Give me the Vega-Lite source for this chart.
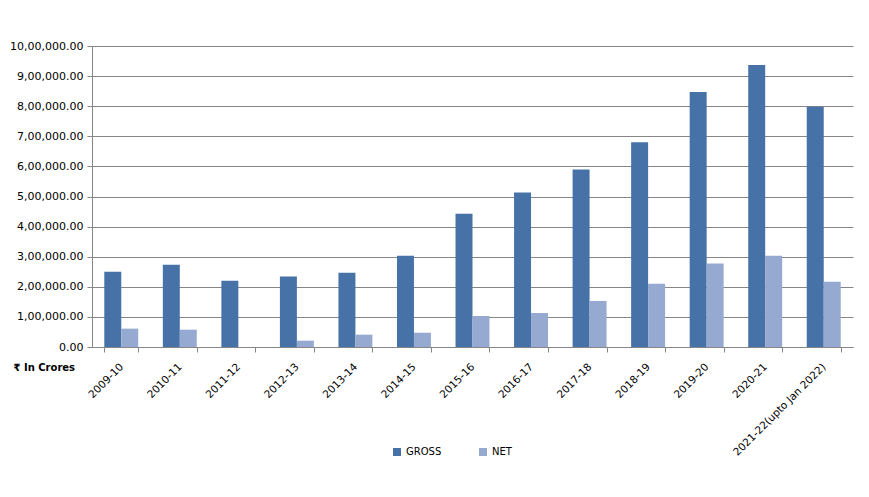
{
  "$schema": "https://vega.github.io/schema/vega-lite/v6.json",
  "width": 761,
  "height": 301,
  "autosize": {"type": "none"},
  "padding": {"left": 92, "top": 46, "right": 16, "bottom": 150},
  "background": "white",
  "data": {
    "values": [
      {"year": "2009-10", "type": "GROSS", "value": 250000},
      {"year": "2009-10", "type": "NET", "value": 61000},
      {"year": "2010-11", "type": "GROSS", "value": 273000},
      {"year": "2010-11", "type": "NET", "value": 57500},
      {"year": "2011-12", "type": "GROSS", "value": 220000},
      {"year": "2011-12", "type": "NET", "value": 0},
      {"year": "2012-13", "type": "GROSS", "value": 234000},
      {"year": "2012-13", "type": "NET", "value": 21000},
      {"year": "2013-14", "type": "GROSS", "value": 247000},
      {"year": "2013-14", "type": "NET", "value": 41000},
      {"year": "2014-15", "type": "GROSS", "value": 303000},
      {"year": "2014-15", "type": "NET", "value": 47500},
      {"year": "2015-16", "type": "GROSS", "value": 443000},
      {"year": "2015-16", "type": "NET", "value": 103000},
      {"year": "2016-17", "type": "GROSS", "value": 513000},
      {"year": "2016-17", "type": "NET", "value": 113000},
      {"year": "2017-18", "type": "GROSS", "value": 590000},
      {"year": "2017-18", "type": "NET", "value": 153000},
      {"year": "2018-19", "type": "GROSS", "value": 680000},
      {"year": "2018-19", "type": "NET", "value": 210000},
      {"year": "2019-20", "type": "GROSS", "value": 847000},
      {"year": "2019-20", "type": "NET", "value": 277000},
      {"year": "2020-21", "type": "GROSS", "value": 937000},
      {"year": "2020-21", "type": "NET", "value": 303000},
      {"year": "2021-22(upto Jan 2022)", "type": "GROSS", "value": 798000},
      {"year": "2021-22(upto Jan 2022)", "type": "NET", "value": 217000}
    ]
  },
  "mark": {"type": "bar"},
  "encoding": {
    "x": {
      "field": "year",
      "type": "nominal",
      "sort": null,
      "scale": {"paddingInner": 0.42, "paddingOuter": 0.21},
      "axis": {
        "title": null,
        "labelAngle": -45,
        "labelAlign": "right",
        "labelBaseline": "middle",
        "labelPadding": 13,
        "tickBand": "extent",
        "tickSize": 5,
        "tickColor": "#868686",
        "domainColor": "#868686",
        "labelFont": "DejaVu Sans",
        "labelFontSize": 10.5,
        "labelColor": "#000000",
        "labelLimit": 300,
        "grid": false
      }
    },
    "xOffset": {"field": "type", "type": "nominal", "scale": {"paddingInner": 0, "paddingOuter": 0}},
    "y": {
      "field": "value",
      "type": "quantitative",
      "scale": {"domain": [0, 1000000], "nice": false},
      "axis": {
        "values": [0, 100000, 200000, 300000, 400000, 500000, 600000, 700000, 800000, 900000, 1000000],
        "labelExpr": "datum.value == 0 ? '0.00' : (datum.value / 100000) + ',00,000.00'",
        "labelFont": "DejaVu Sans",
        "labelFontSize": 11,
        "labelColor": "#000000",
        "labelPadding": 4,
        "tickSize": 5,
        "tickColor": "#868686",
        "domainColor": "#868686",
        "gridColor": "#868686",
        "gridOpacity": 1,
        "title": "₹ In Crores",
        "titleAngle": 0,
        "titleAlign": "left",
        "titleBaseline": "middle",
        "titleX": -79,
        "titleY": 321,
        "titleFont": "DejaVu Sans",
        "titleFontSize": 10,
        "titleFontWeight": "bold",
        "titleColor": "#000000"
      }
    },
    "color": {
      "field": "type",
      "type": "nominal",
      "scale": {"domain": ["GROSS", "NET"], "range": ["#4672A8", "#95A9D1"]},
      "legend": {
        "title": null,
        "orient": "none",
        "direction": "horizontal",
        "legendX": 300,
        "legendY": 401,
        "symbolType": "square",
        "symbolSize": 64,
        "symbolStrokeWidth": 0,
        "labelFont": "DejaVu Sans",
        "labelFontSize": 10,
        "labelColor": "#000000",
        "labelOffset": 4,
        "columnPadding": 36
      }
    }
  },
  "config": {
    "view": {"stroke": null}
  }
}
